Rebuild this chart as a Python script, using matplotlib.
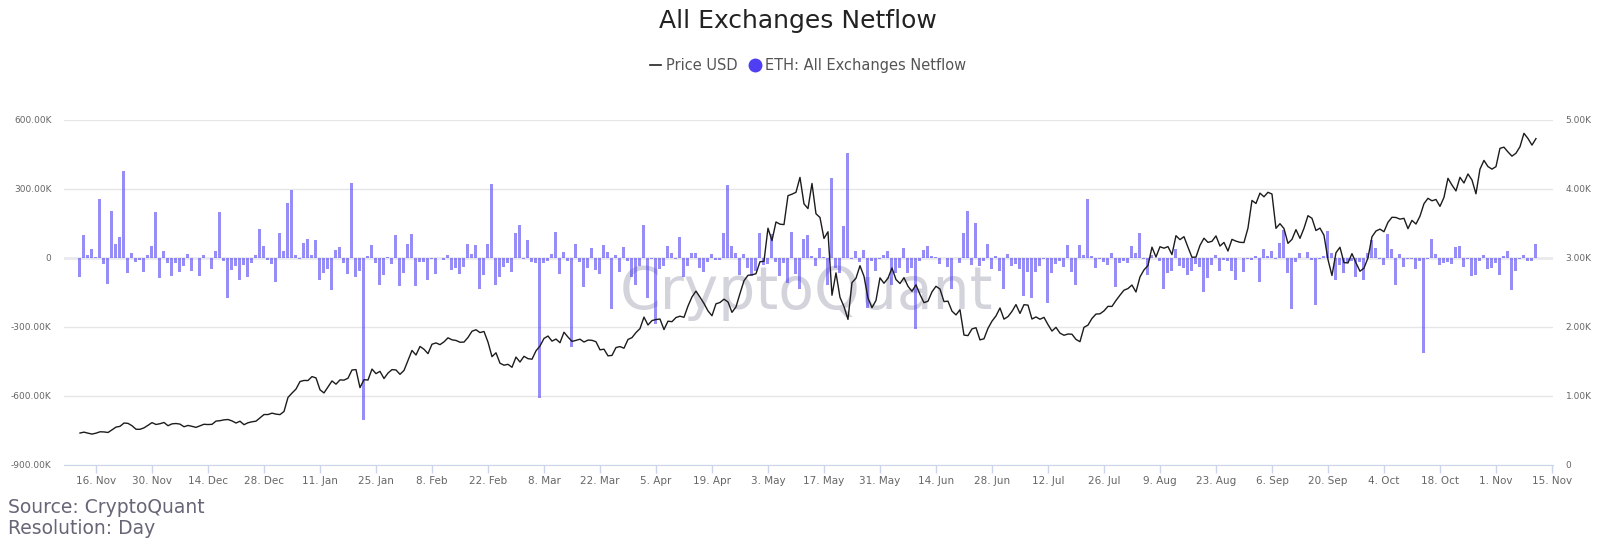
import matplotlib
matplotlib.use("Agg")
import matplotlib.pyplot as plt
from matplotlib.lines import Line2D
import numpy as np
import pandas as pd

# ---------------- data ----------------
start_date = "2020-11-12"

netflow_k = [
    -81, 98, 13, 38, 3, 255, -28, -115, 203, 60, 93, 377, -67, 23, -17, -9, -60, 13, 51, 199,
    -88, 30, -20, -77, -20, -59, -33, 17, -55, 0, -80, 13, 0, -48, 32, 199, -13, -176, -52, -35,
    -97, -30, -84, -23, 13, 125, 51, -9, -26, -104, 110, 30, 241, 294, 14, -4, 67, 81, 14, 77,
    -97, -67, -49, -139, 33, 46, -23, -68, 326, -83, -58, -703, 7, 57, -23, -116, -75, 3, -28, 99,
    -122, -64, 59, 103, -122, -17, -17, -94, -5, -70, 0, -9, 12, -52, -42, -70, -41, 59, 17, 57,
    -136, -75, 59, 323, -119, -81, -38, -22, -62, 107, 142, -4, 77, -19, -23, -609, -23, -13, 17, 113,
    -70, 28, -13, -386, 59, -17, -126, -42, 42, -52, -70, 55, 28, -222, 14, -61, 49, -13, -81, -117,
    -35, 142, -173, -6, -286, -49, -35, 51, 20, -4, 90, -81, -35, 23, 20, -43, -62, -17, 17, -9,
    -9, 110, 319, 51, 23, -75, 17, -43, -78, -57, 107, -32, -28, 103, -17, -77, -23, -110, 113, -70,
    -133, 84, 99, 9, -35, 42, 4, -116, 348, -42, -65, 139, 455, -5, 30, -19, 35, -216, -14, -57,
    -4, 13, 30, -116, -64, -42, 42, -64, -43, -307, -13, 33, 52, 7, 3, -28, 0, -38, -133, 0,
    -20, 107, 204, -30, 152, -35, -13, 59, -48, 7, -57, -133, 17, -35, -28, -49, -165, -61, -176, -61,
    -33, -6, -194, -67, -28, -13, -41, 57, -59, -119, 57, 13, 255, 7, -43, -4, -17, -32, 20, -125,
    -23, -13, -23, 51, 23, 110, -4, -72, 13, 0, -14, -136, -64, -55, 38, -35, -42, -72, -55, -28,
    -38, -148, -87, -30, 14, -55, -9, -13, -55, -94, 0, -59, -3, -9, 9, -104, 38, 9, 30, -3,
    64, 122, -65, -220, -17, 23, 0, 28, -9, -204, -4, 9, 119, 20, -94, -30, -64, -23, -14, -83,
    -17, -94, 23, 77, 42, -4, -30, 103, 38, -116, 17, -38, -3, -3, -46, -13, -412, -3, 81, 17,
    -30, -23, -17, -28, 46, 52, -38, -3, -78, -72, -13, 14, -46, -42, -20, -74, 9, 30, -138, -55,
    -3, 13, -12, -12, 61,
]

price_usd = [
    # Nov 2020 (12-30)
    463, 476, 461, 448, 461, 481, 479, 471, 509, 549, 560, 608, 603, 569, 518, 517, 538, 575, 614,
    # Dec 2020
    587, 598, 616, 569, 596, 601, 592, 554, 573, 560, 545, 568, 590, 586, 589, 636, 642, 654, 659, 639,
    608, 634, 584, 612, 626, 635, 683, 731, 731, 751, 737,
    # Jan 2021
    730, 775, 979, 1042, 1100, 1209, 1225, 1224, 1281, 1262, 1090, 1044, 1130, 1218, 1171, 1233, 1230,
    1257, 1377, 1382, 1121, 1236, 1231, 1390, 1324, 1357, 1253, 1332, 1382, 1377, 1314,
    # Feb 2021
    1370, 1515, 1660, 1594, 1718, 1677, 1614, 1750, 1769, 1744, 1784, 1843, 1814, 1805, 1779, 1781,
    1848, 1938, 1960, 1919, 1935, 1781, 1570, 1626, 1475, 1446, 1459, 1416,
    # Mar 2021
    1564, 1492, 1575, 1541, 1533, 1654, 1724, 1834, 1869, 1795, 1825, 1772, 1924, 1854, 1791, 1806,
    1823, 1782, 1810, 1807, 1786, 1669, 1678, 1582, 1588, 1702, 1716, 1692, 1819, 1846, 1919,
    # Apr 2021
    1977, 2143, 2029, 2093, 2108, 2115, 1963, 2084, 2077, 2137, 2156, 2140, 2303, 2436, 2520, 2432,
    2341, 2233, 2163, 2336, 2355, 2403, 2363, 2212, 2291, 2485, 2670, 2749, 2756, 2772,
    # May 2021
    2946, 2952, 3432, 3252, 3522, 3490, 3484, 3903, 3925, 3952, 4168, 3785, 3716, 4080, 3641, 3587,
    3283, 3380, 2460, 2784, 2430, 2296, 2110, 2643, 2707, 2888, 2736, 2420, 2280, 2385, 2712,
    # Jun 2021
    2634, 2706, 2855, 2688, 2630, 2715, 2590, 2517, 2611, 2472, 2353, 2373, 2509, 2590, 2550, 2368,
    2374, 2230, 2175, 2250, 1883, 1875, 1972, 1990, 1813, 1829, 1980, 2084, 2160, 2275,
    # Jul 2021
    2114, 2150, 2226, 2325, 2197, 2323, 2317, 2115, 2146, 2112, 2140, 2035, 1941, 1995, 1911, 1880,
    1898, 1895, 1820, 1787, 1995, 2027, 2124, 2187, 2191, 2233, 2299, 2298, 2384, 2461, 2533,
    # Aug 2021
    2557, 2608, 2507, 2725, 2827, 2890, 3157, 3014, 3163, 3142, 3165, 3049, 3323, 3266, 3309, 3156,
    3010, 3013, 3182, 3287, 3226, 3242, 3320, 3173, 3225, 3101, 3270, 3244, 3227, 3224, 3433,
    # Sep 2021
    3834, 3790, 3940, 3887, 3952, 3927, 3430, 3497, 3427, 3212, 3270, 3411, 3285, 3430, 3613, 3575,
    3398, 3433, 3330, 2978, 2746, 3076, 3155, 2933, 2928, 3063, 2930, 2808, 2853, 3001,
    # Oct 2021
    3307, 3391, 3418, 3381, 3517, 3590, 3587, 3563, 3575, 3425, 3545, 3492, 3606, 3786, 3865, 3829,
    3848, 3748, 3878, 4155, 4057, 3972, 4169, 4087, 4218, 4131, 3930, 4287, 4414, 4325, 4288,
    # Nov 2021 (1-11)
    4324, 4589, 4606, 4537, 4476, 4518, 4612, 4807, 4732, 4636, 4730,
]

left_ticks = [600000, 300000, 0, -300000, -600000, -900000]
left_labels = ["600.00K", "300.00K", "0", "-300.00K", "-600.00K", "-900.00K"]
right_ticks = [0, 1000, 2000, 3000, 4000, 5000]
right_labels = ["0", "1.00K", "2.00K", "3.00K", "4.00K", "5.00K"]
x_tick_start = "2020-11-16"
x_tick_end = "2021-11-15"

# ---------------- build ----------------
n = min(len(netflow_k), len(price_usd))
dates = pd.date_range(start_date, periods=n, freq="D")
netflow = np.array(netflow_k[:n], dtype=float) * 1000.0
price = np.array(price_usd[:n], dtype=float)

fig = plt.figure(figsize=(16, 5.55), dpi=100)
ax = fig.add_axes([0.04, 0.1622, 0.9306, 0.6216])
ax2 = ax.twinx()

grid_c = "#e6e6e6"
label_c = "#666666"

# watermark
ax.text(0.499, 0.50, "CryptoQuant", transform=ax.transAxes, ha="center", va="center",
        fontsize=42, color="#d3d3dc", zorder=0.5, fontweight="normal")

ax.bar(dates, netflow, width=0.75, color="#4b3cf0", alpha=0.58, linewidth=0, zorder=2)
ax2.plot(dates, price, color="#1c1c1c", linewidth=1.0, zorder=3)

ax.set_ylim(-900000, 600000)
ax2.set_ylim(0, 5000)
ax.set_xlim(pd.Timestamp("2020-11-08"), pd.Timestamp("2021-11-15 06:00"))

ax.set_yticks(left_ticks)
ax.set_yticklabels(left_labels)
ax2.set_yticks(right_ticks)
ax2.set_yticklabels(right_labels)

xt = pd.date_range(x_tick_start, x_tick_end, freq="14D")
ax.set_xticks(xt)
ax.set_xticklabels([f"{d.day}. {d.strftime('%b')}" for d in xt])

ax.grid(axis="y", color=grid_c, linewidth=1.0, zorder=0)
ax.set_axisbelow(True)
ax.axhline(0, color="#e9e9ee", linewidth=2.0, zorder=1)

for a in (ax, ax2):
    for s in ("top", "left", "right"):
        a.spines[s].set_visible(False)
ax2.spines["bottom"].set_visible(False)
ax.spines["bottom"].set_color("#ccd6eb")

ax.tick_params(axis="y", length=0, labelsize=6.5, labelcolor=label_c, pad=9)
ax2.tick_params(axis="y", length=0, labelsize=6.5, labelcolor=label_c, pad=9)
ax.tick_params(axis="x", length=6, width=1, color="#ccd6eb", labelsize=7.5,
               labelcolor=label_c, pad=2)

# title & legend
fig.text(0.499, 0.963, "All Exchanges Netflow", ha="center", va="center",
         fontsize=18, color="#222222")
handles = [Line2D([0], [0], color="#222222", lw=1.2),
           Line2D([0], [0], marker="o", color="none", markerfacecolor="#4f3ef2",
                  markeredgecolor="#4f3ef2", markersize=9)]
fig.legend(handles, ["Price USD", "ETH: All Exchanges Netflow"], loc="center",
           bbox_to_anchor=(0.505, 0.882), ncol=2, frameon=False, fontsize=10.5,
           handlelength=0.8, handletextpad=0.3, columnspacing=0.8,
           labelcolor="#555555")

fig.text(0.005, 0.085, "Source: CryptoQuant", ha="left", va="center",
         fontsize=13.5, color="#666677")
fig.text(0.005, 0.047, "Resolution: Day", ha="left", va="center",
         fontsize=13.5, color="#666677")

fig.savefig("out.png", dpi=100, facecolor="white")
